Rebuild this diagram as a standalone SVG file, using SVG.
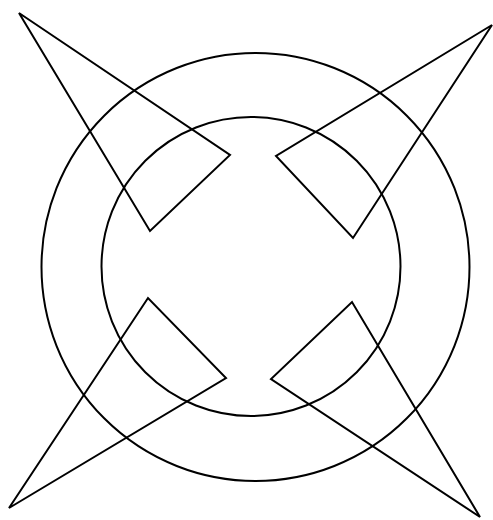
<svg xmlns="http://www.w3.org/2000/svg" width="493" height="520" viewBox="0 0 493 520">
<style>
.s{fill:none;stroke:#000;stroke-width:2;stroke-linejoin:miter}
</style>
<rect width="493" height="520" fill="#fff"/>
<g id="outer-circle"><circle class="s" cx="255.5" cy="267" r="214"/></g>
<g id="inner-circle"><circle class="s" cx="251" cy="266.5" r="149.5"/></g>
<g id="kite-top-left"><polygon class="s" points="19,13 230,155 150,231"/></g>
<g id="kite-top-right"><polygon class="s" points="492,25 276,156 353,238"/></g>
<g id="kite-bottom-left"><polygon class="s" points="9,508 148,298 226,378"/></g>
<g id="kite-bottom-right"><polygon class="s" points="480,517 352,302 271,379"/></g>
</svg>
